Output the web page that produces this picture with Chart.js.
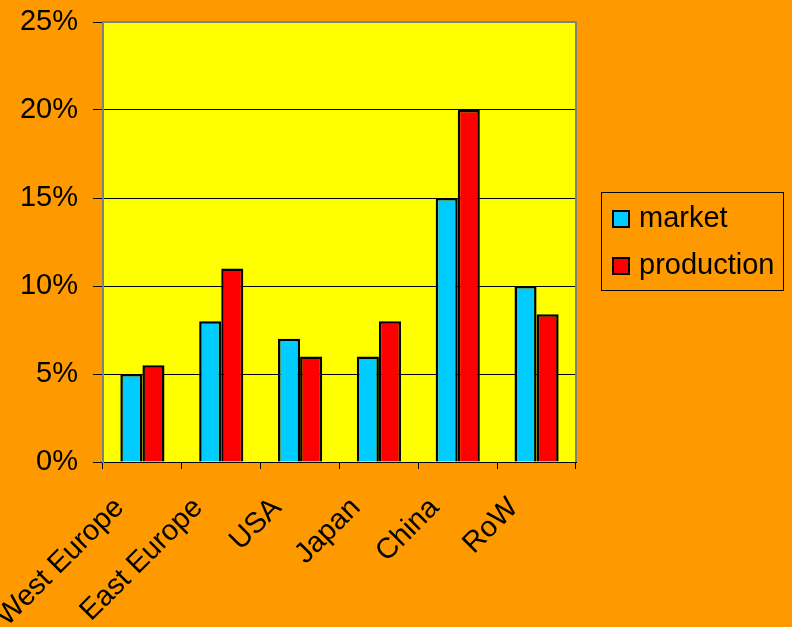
<!DOCTYPE html>
<html>
<head>
<meta charset="utf-8">
<script src="https://cdn.jsdelivr.net/npm/chart.js@4.4.1/dist/chart.umd.min.js"></script>
<style>
    html, body { margin: 0; padding: 0; background: #FF9900; }
    #wrap { width: 792px; height: 627px; }
</style>
</head>
<body>
<div id="wrap"><canvas id="chart" width="792" height="627"></canvas></div>
<script>
// Data
const regions = ['West Europe', 'East Europe', 'USA', 'Japan', 'China', 'RoW'];
const marketShare = [5, 8, 7, 6, 15, 10];
const productionShare = [5.5, 11, 6, 8, 20, 8.4];
const seriesNames = ['market', 'production'];

const FONT = 'Liberation Sans, Arial, sans-serif';

// Yellow plot area with grey frame on top and right
const plotBackground = {
    id: 'plotBackground',
    beforeDraw(chart) {
        const { ctx, chartArea: a } = chart;
        ctx.save();
        ctx.fillStyle = '#FFFF00';
        ctx.fillRect(a.left, a.top, a.right - a.left, a.bottom - a.top);
        ctx.restore();
    },
    afterDatasetsDraw(chart) {
        const { ctx, chartArea: a } = chart;
        ctx.save();
        ctx.strokeStyle = '#808080';
        ctx.lineWidth = 2;
        ctx.beginPath();
        ctx.moveTo(a.left, a.top);
        ctx.lineTo(a.right, a.top);
        ctx.lineTo(a.right, a.bottom);
        ctx.stroke();
        ctx.restore();
    }
};

// Boxed legend on the right, like the original
const boxLegend = {
    id: 'boxLegend',
    afterDraw(chart) {
        const ctx = chart.ctx;
        const x = 601, y = 192, w = 182, h = 98;
        ctx.save();
        ctx.strokeStyle = '#000';
        ctx.lineWidth = 1;
        ctx.strokeRect(x + 0.5, y + 0.5, w, h);
        ctx.font = '29px ' + FONT;
        ctx.textBaseline = 'middle';
        chart.data.datasets.forEach((ds, i) => {
            const cy = 219 + i * 47;
            ctx.fillStyle = ds.backgroundColor;
            ctx.fillRect(613, cy - 8, 16, 16);
            ctx.strokeStyle = '#000';
            ctx.lineWidth = 2;
            ctx.strokeRect(613, cy - 8, 16, 16);
            ctx.fillStyle = '#000';
            ctx.fillText(ds.label, 639, cy);
        });
        ctx.restore();
    }
};

new Chart(document.getElementById('chart'), {
    type: 'bar',
    data: {
        labels: regions,
        datasets: [
            {
                label: seriesNames[0],
                data: marketShare,
                backgroundColor: '#00CCFF',
                borderColor: '#000',
                borderWidth: 2.5,
                barPercentage: 1,
                categoryPercentage: 0.56
            },
            {
                label: seriesNames[1],
                data: productionShare,
                backgroundColor: '#FF0000',
                borderColor: '#000',
                borderWidth: 2.5,
                barPercentage: 1,
                categoryPercentage: 0.56
            }
        ]
    },
    options: {
        responsive: false,
        animation: false,
        layout: {
            padding: { top: 22, right: 216, left: 0, bottom: 0 }
        },
        plugins: {
            legend: { display: false },
            tooltip: { enabled: false }
        },
        scales: {
            x: {
                grid: {
                    offset: true,
                    drawOnChartArea: false,
                    color: '#000',
                    tickLength: 7,
                    tickColor: '#000'
                },
                border: { color: '#000', width: 1 },
                ticks: {
                    color: '#000',
                    font: { family: FONT, size: 29 },
                    minRotation: 45,
                    maxRotation: 45,
                    padding: 22,
                    labelOffset: -23
                },
                afterFit(scale) {
                    scale.height = 165;
                    scale.paddingLeft = 0;
                    scale.paddingRight = 0;
                }
            },
            y: {
                min: 0,
                max: 25,
                grid: {
                    color: '#000',
                    lineWidth: 1,
                    tickLength: 10,
                    tickColor: '#000'
                },
                border: { color: '#808080', width: 2 },
                ticks: {
                    stepSize: 5,
                    color: '#000',
                    font: { family: FONT, size: 29 },
                    padding: 15,
                    callback: v => v + '%'
                },
                afterFit(scale) {
                    scale.width = 103;
                    scale.paddingTop = 0;
                    scale.paddingBottom = 0;
                }
            }
        }
    },
    plugins: [plotBackground, boxLegend]
});
</script>
</body>
</html>
